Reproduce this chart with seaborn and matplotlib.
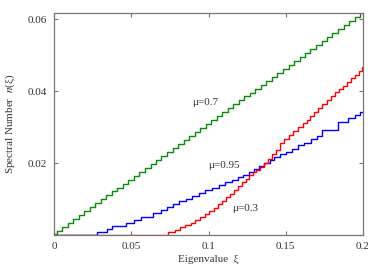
import matplotlib
matplotlib.use("Agg")
import matplotlib.pyplot as plt
import seaborn as sns
import pandas as pd

# step data: eigenvalue xi where each step starts, and level n(xi)
xi_green = [0.0, 0.0018, 0.0055, 0.0088, 0.0125, 0.0160, 0.0195, 0.0232, 0.0268, 0.0302,
            0.0338, 0.0375, 0.0410, 0.0445, 0.0482, 0.0518, 0.0552, 0.0590, 0.0625, 0.0660,
            0.0695, 0.0732, 0.0768, 0.0802, 0.0840, 0.0875, 0.0910, 0.0945, 0.0982, 0.1018,
            0.1052, 0.1088, 0.1125, 0.1160, 0.1195, 0.1232, 0.1268, 0.1302, 0.1338, 0.1375,
            0.1410, 0.1445, 0.1482, 0.1518, 0.1552, 0.1590, 0.1625, 0.1660, 0.1695, 0.1732,
            0.1768, 0.1802, 0.1840, 0.1875, 0.1910, 0.1945, 0.1982, 0.2000]
n_green = [0.0004, 0.0011, 0.0022, 0.0033, 0.0044, 0.0055, 0.0066, 0.0077, 0.0088, 0.0099,
           0.0110, 0.0121, 0.0132, 0.0143, 0.0154, 0.0165, 0.0176, 0.0187, 0.0198, 0.0209,
           0.0220, 0.0231, 0.0242, 0.0253, 0.0264, 0.0275, 0.0286, 0.0297, 0.0308, 0.0319,
           0.0330, 0.0341, 0.0352, 0.0363, 0.0374, 0.0385, 0.0396, 0.0407, 0.0418, 0.0429,
           0.0440, 0.0451, 0.0462, 0.0473, 0.0484, 0.0495, 0.0506, 0.0517, 0.0528, 0.0539,
           0.0550, 0.0561, 0.0572, 0.0583, 0.0594, 0.0605, 0.0616, 0.0616]

xi_blue = [0.0, 0.0280, 0.0341, 0.0377, 0.0464, 0.0518, 0.0561, 0.0643, 0.0690, 0.0730,
           0.0770, 0.0810, 0.0855, 0.0895, 0.0940, 0.0980, 0.1025, 0.1070, 0.1110, 0.1150,
           0.1190, 0.1225, 0.1260, 0.1295, 0.1330, 0.1360, 0.1395, 0.1425, 0.1460, 0.1500,
           0.1540, 0.1580, 0.1620, 0.1665, 0.1700, 0.1735, 0.1840, 0.1905, 0.1948, 0.1980,
           0.2000]
n_blue = [0.0, 0.0009, 0.0017, 0.0025, 0.0033, 0.0041, 0.0049, 0.0062, 0.0070, 0.0078,
          0.0086, 0.0094, 0.0100, 0.0108, 0.0116, 0.0124, 0.0131, 0.0138, 0.0146, 0.0154,
          0.0161, 0.0168, 0.0176, 0.0184, 0.0192, 0.0200, 0.0208, 0.0216, 0.0224, 0.0232,
          0.0240, 0.0249, 0.0257, 0.0266, 0.0274, 0.0292, 0.0315, 0.0324, 0.0333, 0.0343,
          0.0343]

xi_red = [0.0, 0.0740, 0.0780, 0.0815, 0.0850, 0.0885, 0.0915, 0.0945, 0.0975, 0.1005,
          0.1035, 0.1060, 0.1090, 0.1115, 0.1140, 0.1165, 0.1190, 0.1215, 0.1240, 0.1265,
          0.1290, 0.1310, 0.1335, 0.1360, 0.1385, 0.1410, 0.1435, 0.1460, 0.1490, 0.1520,
          0.1550, 0.1580, 0.1610, 0.1635, 0.1660, 0.1685, 0.1710, 0.1735, 0.1765, 0.1790,
          0.1820, 0.1845, 0.1870, 0.1895, 0.1925, 0.1950, 0.1975, 0.1995, 0.2000]
n_red = [0.0, 0.0008, 0.0015, 0.0021, 0.0027, 0.0034, 0.0042, 0.0050, 0.0058, 0.0067,
         0.0076, 0.0085, 0.0095, 0.0105, 0.0115, 0.0125, 0.0135, 0.0146, 0.0157, 0.0166,
         0.0174, 0.0182, 0.0190, 0.0201, 0.0212, 0.0224, 0.0236, 0.0256, 0.0266, 0.0277,
         0.0290, 0.0300, 0.0310, 0.0320, 0.0330, 0.0343, 0.0353, 0.0363, 0.0375, 0.0385,
         0.0397, 0.0407, 0.0415, 0.0425, 0.0436, 0.0446, 0.0457, 0.0467, 0.0467]

curve_labels = ["μ=0.7", "μ=0.95", "μ=0.3"]
label_xy = [(0.0977, 0.0367), (0.1100, 0.0194), (0.1236, 0.0075)]

x_ticks = [0, 0.05, 0.1, 0.15, 0.2]
x_ticklabels = ["0", "0.05", "0.1", "0.15", "0.2"]
y_ticks = [0.02, 0.04, 0.06]
y_ticklabels = ["0.02", "0.04", "0.06"]

sns.set_style("ticks")
plt.rcParams["font.family"] = ["Liberation Serif", "DejaVu Serif"]
plt.rcParams["mathtext.fontset"] = "stix"

fig = plt.figure(figsize=(3.82, 2.67), dpi=100)
ax = fig.add_axes([54 / 382, 32 / 267, 309 / 382, 222 / 267])

curves = [(xi_green, n_green, "#0a8a0a"), (xi_blue, n_blue, "#0000ff"), (xi_red, n_red, "#ff0000")]
for xs, ys, col in curves:
    df = pd.DataFrame({"xi": xs, "n": ys})
    sns.lineplot(data=df, x="xi", y="n", ax=ax, color=col, lw=1.0,
                 drawstyle="steps-post", estimator=None, sort=False)

for txt, (x, y) in zip(curve_labels, label_xy):
    ax.text(x, y, txt, fontsize=8, ha="center", va="center", color="#333333")

ax.set_xlim(0, 0.2)
ax.set_ylim(0, 0.0617)
ax.set_xticks(x_ticks)
ax.set_xticklabels(x_ticklabels)
ax.set_yticks(y_ticks)
ax.set_yticklabels(y_ticklabels)
ax.tick_params(direction="in", length=3, width=0.8, colors="#777777",
               labelcolor="#333333", labelsize=8, top=True, right=True, pad=5)
for s in ax.spines.values():
    s.set_color("#777777")
    s.set_linewidth(0.9)

ax.set_xlabel("Eigenvalue  ξ", fontsize=8, color="#333333", labelpad=3)
ax.set_ylabel("Spectral Number  $n$(ξ)", fontsize=8, color="#333333", labelpad=8)

fig.savefig("out.png", dpi=100)
